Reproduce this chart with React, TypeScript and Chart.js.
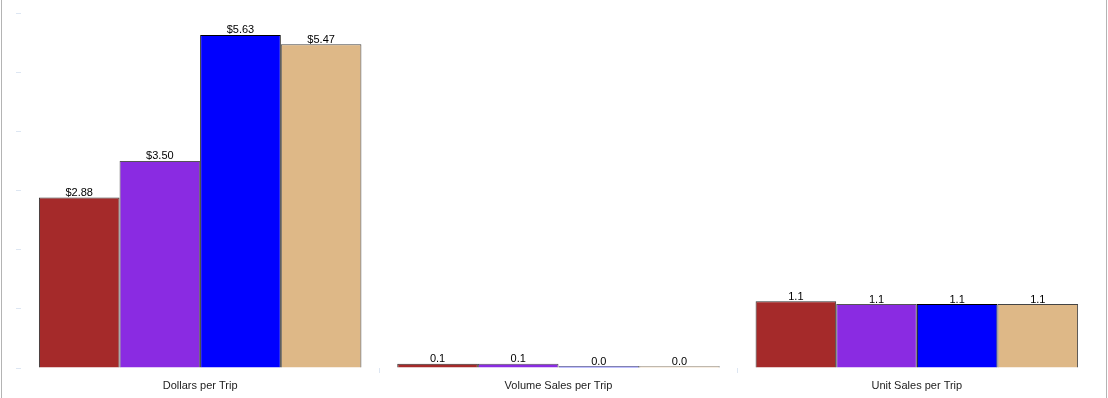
import React, { useEffect, useRef } from "react";
import { Chart, registerables } from "chart.js";

Chart.register(...registerables);

const categories = ["Dollars per Trip", "Volume Sales per Trip", "Unit Sales per Trip"];
const seriesNames = ["Series A", "Series B", "Series C", "Series D"];
const seriesA = [2.88, 0.07, 1.13];
const seriesB = [3.5, 0.07, 1.08];
const seriesC = [5.63, 0.03, 1.08];
const seriesD = [5.47, 0.03, 1.08];
const fillColors = ["#A52A2A", "#8A2BE2", "#0000FF", "#DEB887"];
const edgeColors = ["#333333", "#555555", "#000000", "#444444"];
const yTicks = [0, 1, 2, 3, 4, 5, 6];

const fmt = (catIdx: number, v: number) =>
  catIdx === 0 ? "$" + v.toFixed(2) : v.toFixed(1);

const labelPlugin = {
  id: "barLabels",
  afterDatasetsDraw(chart: any) {
    const ctx = chart.ctx;
    ctx.save();
    ctx.font = "11px 'Liberation Sans', Arial, sans-serif";
    ctx.fillStyle = "#000";
    ctx.textAlign = "center";
    ctx.textBaseline = "bottom";
    chart.data.datasets.forEach((ds: any, di: number) => {
      const meta = chart.getDatasetMeta(di);
      meta.data.forEach((el: any, i: number) => {
        ctx.fillText(fmt(i, ds.data[i]), el.x, el.y + 1);
      });
    });
    ctx.restore();
  },
};

export default function App() {
  const ref = useRef<HTMLCanvasElement | null>(null);
  useEffect(() => {
    if (!ref.current) return;
    const all = [seriesA, seriesB, seriesC, seriesD];
    const chart = new Chart(ref.current, {
      type: "bar",
      data: {
        labels: categories,
        datasets: all.map((d, i) => ({
          label: seriesNames[i],
          data: d,
          backgroundColor: fillColors[i],
          borderColor: edgeColors[i],
          borderWidth: 1,
          barPercentage: 1,
          categoryPercentage: 0.9,
        })),
      },
      options: {
        animation: false,
        responsive: false,
        maintainAspectRatio: false,
        layout: { padding: { left: 16, right: 12, top: 13, bottom: 0 } },
        plugins: { legend: { display: false }, tooltip: { enabled: false } },
        scales: {
          x: {
            offset: true,
            afterFit: (s: any) => {
              s.height = 30;
            },
            border: { display: false },
            grid: {
              drawOnChartArea: false,
              drawTicks: true,
              tickLength: 5,
              color: (c: any) =>
                c.type !== "tick" || c.index === 0 ? "rgba(0,0,0,0)" : "#dde6f2",
            },
            ticks: {
              color: "#222",
              padding: 6,
              font: { family: "'Liberation Sans', Arial, sans-serif", size: 11 },
            },
          },
          y: {
            min: yTicks[0],
            max: yTicks[yTicks.length - 1],
            afterBuildTicks: (s: any) => {
              s.ticks = yTicks.map((v) => ({ value: v }));
            },
            afterFit: (s: any) => {
              s.width = 5;
            },
            border: { display: false },
            grid: {
              drawOnChartArea: false,
              drawTicks: true,
              tickLength: 5,
              color: "#dde6f2",
            },
            ticks: { display: false },
          },
        },
      },
      plugins: [labelPlugin],
    });
    return () => chart.destroy();
  }, []);
  return (
    <div style={{ position: "fixed", left: 0, top: 0, width: 1108, height: 398, background: "#fff" }}>
      <div
        style={{
          position: "absolute",
          left: 1,
          top: 0,
          width: 1104,
          height: 398,
          borderLeft: "1px solid #b4b4b4",
          borderRight: "1px solid #b4b4b4",
        }}
      />
      <canvas ref={ref} width={1108} height={398} style={{ position: "absolute", left: 0, top: 0 }} />
    </div>
  );
}
